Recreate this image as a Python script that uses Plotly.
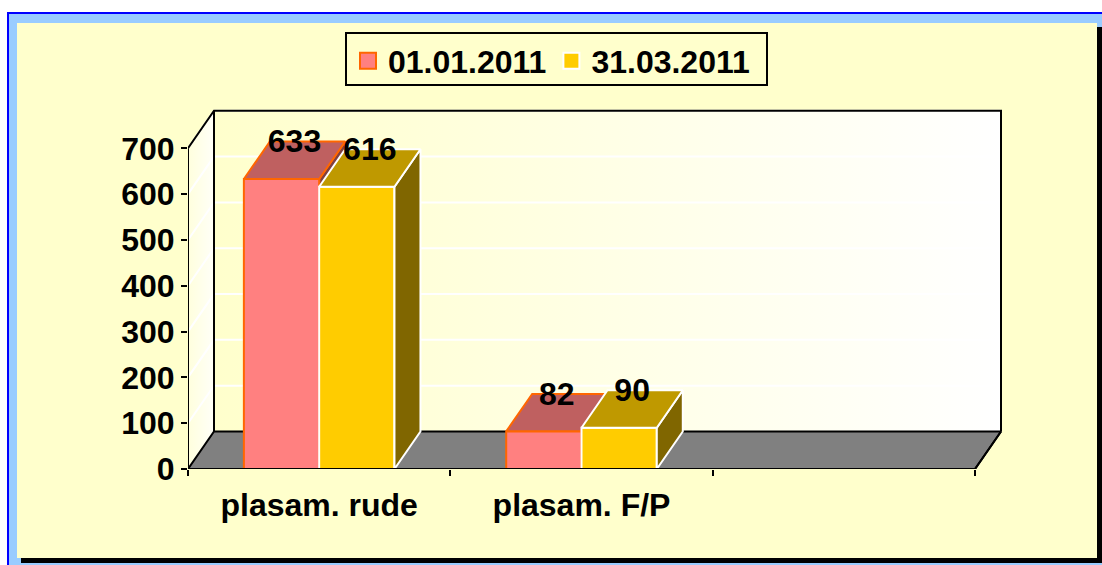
import plotly.graph_objects as go

# ---- data ----
categories = ["plasam. rude", "plasam. F/P"]
series_names = ["01.01.2011", "31.03.2011"]
values_a = [633, 82]
values_b = [616, 90]
y_ticks = [0, 100, 200, 300, 400, 500, 600, 700]

W, H = 1102, 565
X0, X1, Y0, Y1 = 188, 975, 469, 148.3   # front plane pixel extent
DX_PX, DY_PX = 26, 37.5
n_slots = 3
y_max = 700
px_per_cat = (X1 - X0) / n_slots
px_per_val = (Y0 - Y1) / y_max
dx = DX_PX / px_per_cat
dy = DY_PX / px_per_val
xmin, xmax = -0.5, n_slots - 0.5
bargap = 0.426
bar_w = (1 - bargap) / 2
label_drop = 6

PINK, PINK_TOP, PINK_SIDE, ORANGE = "#FF8080", "#BF6060", "#804040", "#FF6600"
GOLD, GOLD_TOP, GOLD_SIDE = "#FFCC00", "#BF9900", "#806600"
FONT = "Liberation Sans, Arial, sans-serif"
FS = 32
BOLD = dict(family=FONT, size=FS, color="black", weight="bold")

fig = go.Figure()


def poly(xs, ys, color, line, width=2, ax=("x", "y")):
    fig.add_trace(go.Scatter(
        x=xs + xs[:1], y=ys + ys[:1], mode="lines", fill="toself",
        fillcolor=color, line=dict(color=line, width=width), xaxis=ax[0], yaxis=ax[1],
        showlegend=False, hoverinfo="skip"))


def box_faces(x_left, v, top, side, line, ax):
    xl, xr = x_left, x_left + bar_w
    poly([xr, xr + dx, xr + dx, xr], [0, dy, v + dy, v], side, line, ax=ax)
    poly([xl, xr, xr + dx, xl + dx], [v, v, v + dy, v + dy], top, line, ax=ax)


# layer 1: walls and floor
side_grad = dict(type="horizontal", colorscale=[[0, "#FFFFDD"], [1, "#FFFFF8"]])
back_grad = dict(type="horizontal", colorscale=[[0, "#FFFFCC"], [1, "#FFFFFF"]])
fig.add_trace(go.Scatter(
    x=[xmin, xmin + dx, xmin + dx, xmin, xmin], y=[0, dy, y_max + dy, y_max, 0],
    mode="lines", fill="toself", fillgradient=side_grad, line=dict(width=0),
    showlegend=False, hoverinfo="skip"))
fig.add_trace(go.Scatter(
    x=[xmin + dx, xmax + dx, xmax + dx, xmin + dx, xmin + dx],
    y=[dy, dy, y_max + dy, y_max + dy, dy],
    mode="lines", fill="toself", fillgradient=back_grad, line=dict(width=0),
    showlegend=False, hoverinfo="skip"))
gx, gy = [], []
for t in y_ticks[1:]:
    gx += [xmin, xmin + dx, xmax + dx, None]
    gy += [t, t + dy, t + dy, None]
fig.add_trace(go.Scatter(x=gx, y=gy, mode="lines", line=dict(color="white", width=2),
                         showlegend=False, hoverinfo="skip"))
poly([xmin, xmax, xmax + dx, xmin + dx], [0, 0, dy, dy], "#808080", "black")
fig.add_trace(go.Scatter(
    x=[xmin, xmin + dx, xmax + dx, xmax + dx, None, xmin + dx, xmin + dx],
    y=[y_max, y_max + dy, y_max + dy, dy, None, dy, y_max + dy],
    mode="lines", line=dict(color="black", width=2), showlegend=False, hoverinfo="skip"))

# layer 2: sides and tops of the first series (behind the second series' front faces)
ax2 = ("x2", "y2")
for i, v in enumerate(values_a):
    box_faces(i - bar_w, v, PINK_TOP, PINK_SIDE, ORANGE, ax2)

# layer 3: front faces and second series' sides and tops
fig.add_trace(go.Bar(x=[0, 1], y=values_a, width=bar_w, offset=-bar_w, xaxis="x3", yaxis="y3",
                     marker=dict(color=PINK, line=dict(color=ORANGE, width=2)),
                     showlegend=False, hoverinfo="skip"))
fig.add_trace(go.Bar(x=[0, 1], y=values_b, width=bar_w, offset=0, xaxis="x3", yaxis="y3",
                     marker=dict(color=GOLD, line=dict(color="white", width=2)),
                     showlegend=False, hoverinfo="skip"))
ax3 = ("x3", "y3")
for i, v in enumerate(values_b):
    box_faces(i, v, GOLD_TOP, GOLD_SIDE, "white", ax3)

# axis lines
fig.add_trace(go.Scatter(x=[xmin, xmin, None, xmin, xmax, xmax + dx], y=[0, y_max, None, 0, 0, dy],
                         mode="lines", line=dict(color="black", width=2), xaxis="x3", yaxis="y3",
                         showlegend=False, hoverinfo="skip"))

# value labels
lx, ly, lt = [], [], []
for i in range(len(categories)):
    for xl, vals in ((i - bar_w, values_a), (i, values_b)):
        lx.append(xl + bar_w / 2 + dx / 2)
        ly.append(vals[i] + dy - label_drop)
        lt.append(str(vals[i]))
fig.add_trace(go.Scatter(x=lx, y=ly, text=lt, mode="text", textposition="middle center",
                         textfont=BOLD, xaxis="x3", yaxis="y3", showlegend=False,
                         hoverinfo="skip", cliponaxis=False))

# legend entries
for name, fill, edge in ((series_names[0], PINK, ORANGE), (series_names[1], GOLD, "white")):
    fig.add_trace(go.Scatter(x=[None], y=[None], name=name, mode="markers", xaxis="x3", yaxis="y3",
                             marker=dict(symbol="square", size=18, color=fill, line=dict(color=edge, width=2))))

x_dom = [X0 / W, (X0 + (xmax + dx - xmin) * px_per_cat + 2) / W]
y_top_px = Y1 - DY_PX - 3
y_dom = [(H - Y0) / H, (H - y_top_px) / H]
x_rng = [xmin, xmax + dx + 2 / px_per_cat]
y_rng = [0, (Y0 - y_top_px) / px_per_val]
hidden = dict(visible=False, fixedrange=True)

fig.update_layout(
    width=W, height=H, autosize=False, margin=dict(l=0, r=0, t=0, b=0, pad=0),
    paper_bgcolor="white", plot_bgcolor="rgba(0,0,0,0)", barmode="overlay", hovermode=False,
    font=BOLD,
    xaxis=dict(domain=x_dom, range=x_rng, automargin=False, tickmode="array",
               tickvals=list(range(len(categories))), ticktext=categories, ticks="", showgrid=False,
               zeroline=False, showline=False, ticklabelstandoff=14, tickfont=BOLD,
               minor=dict(tickmode="array", tickvals=[xmin + k for k in range(n_slots + 1)], ticks="outside",
                          ticklen=6, tickwidth=2, tickcolor="black", showgrid=False)),
    yaxis=dict(domain=y_dom, range=y_rng, automargin=False, tickmode="array", tickvals=y_ticks,
               ticks="outside", ticklen=6, tickwidth=2, tickcolor="black", showgrid=False,
               zeroline=False, showline=False, ticklabelstandoff=0, tickfont=BOLD),
    xaxis2=dict(domain=x_dom, range=x_rng, overlaying="x", anchor="y2", **hidden),
    yaxis2=dict(domain=y_dom, range=y_rng, overlaying="y", anchor="x2", **hidden),
    xaxis3=dict(domain=x_dom, range=x_rng, overlaying="x", anchor="y3", **hidden),
    yaxis3=dict(domain=y_dom, range=y_rng, overlaying="y", anchor="x3", **hidden),
    legend=dict(orientation="h", xref="paper", yref="paper", x=348 / W, y=(H - 33.5) / H,
                xanchor="left", yanchor="top", bgcolor="rgba(0,0,0,0)", borderwidth=0,
                font=BOLD, itemsizing="trace", itemclick=False, itemdoubleclick=False),
    shapes=[
        dict(type="rect", xref="paper", yref="paper", x0=8 / W, x1=1.02, y0=(H - 13) / H, y1=-0.02,
             fillcolor="#99CCFF", line=dict(color="#0000FF", width=2), layer="below"),
        dict(type="rect", xref="paper", yref="paper", x0=21 / W, x1=1102 / W, y0=(H - 27) / H, y1=(H - 563) / H,
             fillcolor="black", line_width=0, layer="below"),
        dict(type="rect", xref="paper", yref="paper", x0=17 / W, x1=1097 / W, y0=(H - 23) / H, y1=(H - 558) / H,
             fillcolor="#FFFFCC", line_width=0, layer="below"),
        dict(type="rect", xref="paper", yref="paper", x0=346 / W, x1=767 / W, y0=(H - 33) / H, y1=(H - 85) / H,
             fillcolor="#FFFFCC", line=dict(color="black", width=2), layer="below"),
    ],
)

fig.write_html("out.html", config=dict(displayModeBar=False),
               post_script="document.body.style.margin='0';document.documentElement.style.overflow='hidden';")
